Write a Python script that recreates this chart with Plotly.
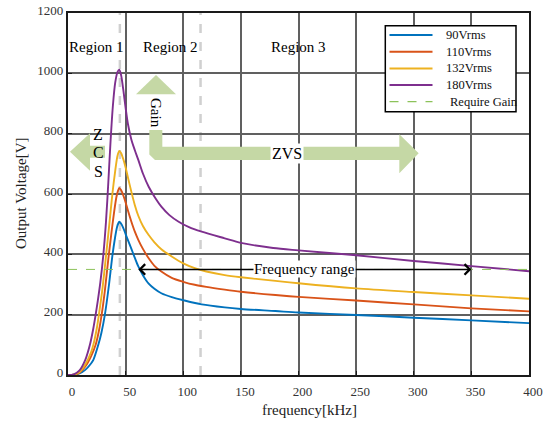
import plotly.graph_objects as go

# ---------------- data ----------------
freq_90 = [0, 5, 10, 15, 20, 22, 26.3, 29, 32, 35.6, 38.5, 40.8, 42.5, 43.7, 44.5, 46, 48, 50, 52, 55, 58, 61, 65, 70, 75, 81, 90, 100, 116, 136, 150, 180, 200, 250, 300, 350, 400]
volt_90 = [0, 1, 5, 17, 38, 50, 100, 140, 200, 300, 395, 455, 490, 503, 508, 502, 487, 467, 447, 418, 388, 360, 331, 303, 286, 271, 258, 248, 234, 224, 219, 212, 207, 199, 190, 181, 172]

freq_110 = [0, 5, 10, 15, 20, 24, 27, 29.2, 32, 35, 37.5, 40, 42, 43.5, 44.5, 46, 48, 50, 52, 55, 58, 61, 65, 70, 75, 81, 90, 100, 110, 120, 136, 150, 180, 200, 250, 300, 350, 400]
volt_110 = [0, 1, 8, 28, 62, 100, 150, 200, 280, 385, 465, 540, 590, 612, 620, 613, 595, 572, 545, 508, 475, 448, 418, 387, 362, 343, 322, 309, 299, 292, 283, 276, 265, 259, 247, 234, 221, 211]

freq_132 = [0, 5, 10, 15, 20, 22, 25, 27, 30, 33, 36, 38.5, 40.8, 43, 44.5, 46, 48, 50, 52, 55, 58, 61, 65, 70, 75, 81, 90, 100, 110, 120, 136, 150, 180, 200, 250, 300, 350, 400]
volt_132 = [0, 1, 10, 35, 75, 100, 155, 205, 290, 395, 505, 600, 672, 728, 743, 736, 715, 688, 655, 607, 563, 528, 494, 464, 440, 417, 393, 370, 354, 343, 331, 324, 312, 304, 287, 275, 264, 253]

freq_180 = [0, 5, 10, 15, 19, 22, 24, 26, 28, 30.7, 33, 35, 37, 39, 41, 43, 44.5, 46, 48, 50, 52, 55, 58, 61, 65, 70, 76, 81, 88, 96, 105, 116, 136, 150, 178, 200, 250, 300, 350, 400]
volt_180 = [0, 2, 15, 50, 100, 155, 200, 250, 305, 400, 510, 640, 780, 895, 970, 1005, 1012, 995, 945, 885, 832, 780, 745, 713, 668, 624, 585, 558, 530, 508, 490, 475, 453, 438, 421, 413, 397, 378, 361, 344]

series_names = ["90Vrms", "110Vrms", "132Vrms", "180Vrms"]
series_colors = ["#0072BD", "#D95319", "#EDB120", "#7E2F8E"]
gain_name = "Require Gain"
gain_color = "#8cc25a"

require_gain = 350          # V
region_bounds = [45, 115]   # kHz
region_labels = ["Region 1", "Region 2", "Region 3"]
x_range = [0, 400]
y_range = [0, 1200]
x_ticks = [0, 50, 100, 150, 200, 250, 300, 350, 400]
y_ticks = [0, 200, 400, 600, 800, 1000, 1200]
freq_range = [61, 350]      # kHz

FONT = "Liberation Serif"

# plot area in pixels (for decorative shapes)
W, H = 552, 422
L, R, T, B = 68, 529, 13, 375
def px(x):
    return (x - L) / (R - L)
def py(y):
    return (B - y) / (B - T)
def P(x, y):
    return f"{px(x):.4f},{py(y):.4f}"

fig = go.Figure()

for fx, vy, name, col in zip([freq_90, freq_110, freq_132, freq_180],
                             [volt_90, volt_110, volt_132, volt_180],
                             series_names, series_colors):
    fig.add_trace(go.Scatter(x=fx, y=vy, mode="lines", name=name, showlegend=False,
                             line=dict(color=col, width=1.9, shape="spline", smoothing=0.8)))

fig.add_trace(go.Scatter(x=x_range, y=[require_gain, require_gain], mode="lines",
                         name=gain_name, showlegend=False,
                         line=dict(color=gain_color, width=1, dash="dash")))

shapes = []
for xb in region_bounds:
    shapes.append(dict(type="line", xref="x", yref="y", x0=xb, x1=xb, y0=y_range[0], y1=y_range[1],
                       line=dict(color="#d0d0d0", width=2.5, dash="dash"), layer="below"))

green = "#c5d8a5"
# Gain / ZVS L-shaped arrow
path_l = ("M " + P(149.3, 130) + " L " + P(162.3, 130) + " L " + P(162.3, 146.7) +
          " L " + P(399.3, 146.7) + " L " + P(399.3, 134.3) + " L " + P(418.7, 153.3) +
          " L " + P(399.3, 173.3) + " L " + P(399.3, 160) + " L " + P(155, 160) +
          " L " + P(149.3, 154.5) + " Z")
shapes.append(dict(type="path", xref="paper", yref="paper", path=path_l,
                   fillcolor=green, line=dict(width=0)))
path_h = "M " + P(136, 94.3) + " L " + P(156, 75) + " L " + P(176, 94.3) + " Z"
shapes.append(dict(type="path", xref="paper", yref="paper", path=path_h,
                   fillcolor=green, line=dict(width=0)))
path_z = ("M " + P(70, 151.7) + " L " + P(90, 133.3) + " L " + P(90, 145.7) + " L " +
          P(105, 145.7) + " L " + P(105, 157.7) + " L " + P(90, 157.7) + " L " +
          P(90, 170.7) + " Z")
shapes.append(dict(type="path", xref="paper", yref="paper", path=path_z,
                   fillcolor=green, line=dict(width=0)))

annotations = []
def text_at(txt, x, y, size, color="black", **kw):
    d = dict(text=txt, xref="paper", yref="paper", x=px(x), y=py(y),
             xanchor=kw.pop("xanchor", "center"), yanchor="middle", showarrow=False,
             font=dict(family=FONT, size=size, color=color))
    d.update(kw)
    annotations.append(d)

# custom legend box
lx0, lx1, ly0, ly1 = 385.3, 516, 25.7, 111.7
shapes.append(dict(type="rect", xref="paper", yref="paper", x0=px(lx0), x1=px(lx1),
                   y0=py(ly1), y1=py(ly0), fillcolor="white",
                   line=dict(color="black", width=1.5), layer="above"))
row_y = [35, 51.7, 68.5, 85, 101.7]
leg_names = series_names + [gain_name]
leg_colors = series_colors + [gain_color]
for i, (nm, col, ry) in enumerate(zip(leg_names, leg_colors, row_y)):
    dash = "dash" if i == 4 else "solid"
    shapes.append(dict(type="line", xref="paper", yref="paper", x0=px(389.5), x1=px(432.5),
                       y0=py(ry), y1=py(ry), layer="above",
                       line=dict(color=col, width=1.3 if i == 4 else 2, dash=dash)))
    text_at(nm, 447.5 if i == 4 else 443.5, ry, 12.5, "#111111", xanchor="left")

# region labels
for txt, xp in zip(region_labels, [96, 170.5, 298]):
    text_at(txt, xp, 47, 15)
# ZCS letters
for ch, (xx, yy) in zip("ZCS", [(97.5, 134.5), (98.3, 152.7), (98.3, 171.7)]):
    text_at(ch, xx, yy, 16)
text_at("Gain", 156, 113, 15, textangle=90, bgcolor="white", borderpad=0)
text_at("ZVS", 287, 154, 16, bgcolor="white", borderpad=1)
# frequency range double arrow
mid = 205
for end in freq_range:
    annotations.append(dict(text="", x=end, y=require_gain, ax=mid, ay=require_gain,
                            xref="x", yref="y", axref="x", ayref="y",
                            showarrow=True, arrowhead=4, arrowsize=1.35, arrowwidth=1.5,
                            arrowcolor="black"))
annotations.append(dict(text="Frequency range", x=mid, y=require_gain, xref="x", yref="y",
                        xanchor="center", yanchor="middle",
                        showarrow=False, bgcolor="white", borderpad=0,
                        font=dict(family=FONT, size=15, color="black")))
# axis titles
text_at("frequency[kHz]", 309.5, 410, 15, "#222222")
text_at("Output Voltage[V]", 21, 193, 15, "#222222", textangle=-90)

fig.update_layout(
    width=W, height=H,
    margin=dict(l=L, r=W - R, t=T, b=H - B, autoexpand=False),
    paper_bgcolor="white", plot_bgcolor="white",
    font=dict(family=FONT, size=13, color="#333333"),
    shapes=shapes, annotations=annotations,
    showlegend=False,
)
axis_common = dict(showgrid=True, gridcolor="#606060", gridwidth=1.7,
                   showline=True, linecolor="#1a1a1a", linewidth=2.2, mirror=True,
                   ticks="inside", ticklen=4, tickcolor="#1a1a1a", zeroline=False,
                   automargin=False,
                   tickfont=dict(family=FONT, size=13, color="#333333"))
fig.update_xaxes(range=x_range, tickvals=x_ticks, ticklabelshift=4, ticklabelstandoff=3, **axis_common)
fig.update_yaxes(range=y_range, tickvals=y_ticks, ticklabelshift=-3, **axis_common)

fig.write_html("out.html", config={"displayModeBar": False},
               post_script="document.body.style.margin='0';document.body.style.padding='0';")
